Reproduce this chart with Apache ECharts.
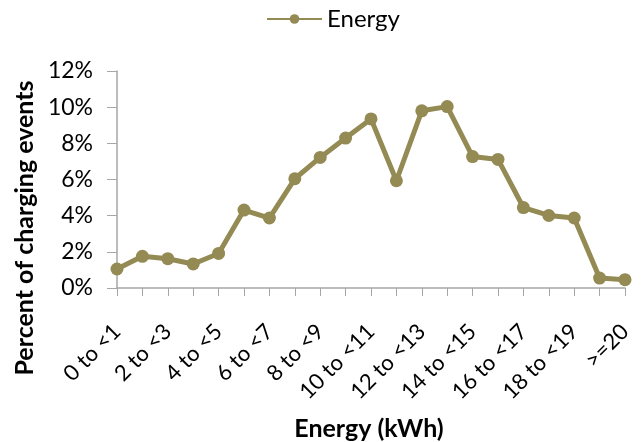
<!DOCTYPE html>
<html>
<head>
<meta charset="utf-8">
<script src="https://cdn.jsdelivr.net/npm/echarts@6/dist/echarts.min.js"></script>
<style>
  html, body { margin: 0; padding: 0; background: #fff; }
  #chart { width: 641px; height: 442px; }
</style>
</head>
<body>
<div id="chart"></div>
<script>
// Energy delivered per charging event, as a share of all events
const categories = [
  '0 to <1', '1 to <2', '2 to <3', '3 to <4', '4 to <5', '5 to <6', '6 to <7',
  '7 to <8', '8 to <9', '9 to <10', '10 to <11', '11 to <12', '12 to <13',
  '13 to <14', '14 to <15', '15 to <16', '16 to <17', '17 to <18', '18 to <19',
  '19 to <20', '>=20'
];
const energyShare = [
  1.05, 1.75, 1.62, 1.33, 1.91, 4.31, 3.87, 6.04, 7.22, 8.29, 9.35,
  5.93, 9.80, 10.03, 7.27, 7.11, 4.45, 4.01, 3.87, 0.55, 0.46
];
const yTicks = { min: 0, max: 12, step: 2 };
const xTitle = 'Energy (kWh)';
const yTitle = 'Percent of charging events';

const font = 'Lato, "Open Sans", sans-serif';
const lineColor = '#948a54';
const axisColor = '#a6a6a6';

const chart = echarts.init(document.getElementById('chart'));
chart.setOption({
  animation: false,
  textStyle: { fontFamily: font },
  legend: {
    top: 2,
    left: 261,
    data: ['Energy'],
    itemWidth: 55,
    itemHeight: 12,
    itemGap: 4,
    textStyle: { fontSize: 24, color: '#000', fontFamily: font }
  },
  grid: { left: 117, right: 16, top: 71, bottom: 154, outerBoundsMode: 'none', containLabel: false },
  // Axis titles drawn as free text so they sit where the layout needs them
  graphic: [{
    type: 'text',
    x: 25,
    y: 228,
    rotation: Math.PI / 2,
    style: {
      text: yTitle,
      align: 'center',
      verticalAlign: 'middle',
      fill: '#000',
      font: 'bold 25px ' + font
    }
  }, {
    type: 'text',
    x: 369,
    y: 429,
    style: {
      text: xTitle,
      align: 'center',
      verticalAlign: 'middle',
      fill: '#000',
      font: 'bold 25px ' + font
    }
  }],
  xAxis: {
    type: 'category',
    data: categories,
    boundaryGap: false,
    axisLine: { lineStyle: { color: axisColor, width: 1.5 } },
    axisTick: { alignWithLabel: true, interval: 0, length: 8, lineStyle: { color: axisColor } },
    axisLabel: {
      interval: 1,
      rotate: 45,
      margin: 40,
      fontSize: 22,
      color: '#000',
      fontFamily: font
    },
    splitLine: { show: false }
  },
  yAxis: {
    type: 'value',
    min: yTicks.min,
    max: yTicks.max,
    interval: yTicks.step,
    axisLine: { show: true, lineStyle: { color: axisColor, width: 1.5 } },
    axisTick: { show: true, inside: false, length: 10, lineStyle: { color: axisColor } },
    axisLabel: {
      formatter: v => v + '%',
      fontSize: 23,
      margin: 24,
      color: '#000',
      fontFamily: font
    },
    splitLine: { show: false }
  },
  series: [{
    name: 'Energy',
    type: 'line',
    data: energyShare,
    symbol: 'circle',
    symbolSize: 13,
    lineStyle: { color: lineColor, width: 5 },
    itemStyle: { color: lineColor },
    z: 3
  }]
});
</script>
</body>
</html>
